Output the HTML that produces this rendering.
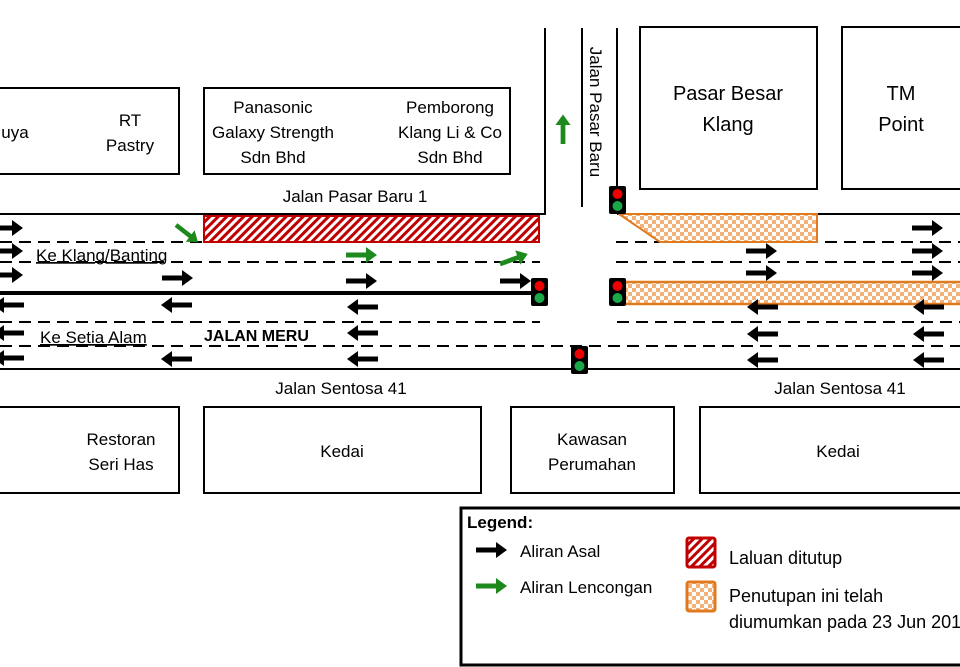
<!DOCTYPE html>
<html><head><meta charset="utf-8"><style>
html,body{margin:0;padding:0;background:#fff;}
svg{display:block;font-family:"Liberation Sans",sans-serif;}
</style></head><body>
<svg width="960" height="667" viewBox="0 0 960 667" xmlns="http://www.w3.org/2000/svg">
<defs>
<pattern id="hatch" width="6" height="6" patternUnits="userSpaceOnUse" patternTransform="rotate(45)">
<rect width="6" height="6" fill="#fff"/><rect width="3" height="6" fill="#c00000"/></pattern>
<pattern id="check" width="8" height="8" patternUnits="userSpaceOnUse">
<rect width="8" height="8" fill="#fff"/><rect width="4" height="4" fill="#f2b27a"/><rect x="4" y="4" width="4" height="4" fill="#f2b27a"/></pattern>
<path id="ar" d="M0 -2.5 H20 V-8 L31 0 L20 8 V2.5 H0 Z"/>
</defs>
<g stroke="#000" stroke-width="2" fill="none">
<rect x="-5" y="88" width="184" height="86"/>
<rect x="204" y="88" width="306" height="86"/>
<rect x="640" y="27" width="177" height="162"/>
<rect x="842" y="27" width="130" height="162"/>
<rect x="-5" y="407" width="184" height="86"/>
<rect x="204" y="407" width="277" height="86"/>
<rect x="511" y="407" width="163" height="86"/>
<rect x="700" y="407" width="270" height="86"/>
<rect x="461" y="508" width="510" height="157" stroke-width="3"/>
<path d="M545 28 V214 H0"/>
<path d="M582 28 V207"/>
<path d="M617 28 V190"/>
<path d="M617 214 H960"/>
<path d="M0 293 H538" stroke-width="4"/>
<path d="M0 369 H960"/>
<g stroke-dasharray="12,7">
<path d="M0 242 H540"/><path d="M0 262 H540"/><path d="M0 322 H540"/>
<path d="M616 242 H960"/><path d="M616 262 H960"/><path d="M617 322 H960"/>
<path d="M0 346 H960"/>
</g>
</g>
<rect x="204" y="216" width="335" height="26" fill="url(#hatch)" stroke="#c00000" stroke-width="2"/>
<path d="M619 214 H817 V242 H660 Z" fill="url(#check)" stroke="#e07a1f" stroke-width="2"/>
<rect x="625" y="282" width="345" height="22" fill="url(#check)" stroke="#e07a1f" stroke-width="2.5"/>
<g fill="#000">
<use href="#ar" x="-8" y="228"/><use href="#ar" x="-8" y="251"/><use href="#ar" x="-8" y="275"/>
<use href="#ar" x="162" y="278"/><use href="#ar" x="346" y="281"/><use href="#ar" x="500" y="281"/>
<use href="#ar" x="912" y="228"/><use href="#ar" x="746" y="251"/><use href="#ar" x="912" y="251"/>
<use href="#ar" x="746" y="273"/><use href="#ar" x="912" y="273"/>
<use href="#ar" transform="translate(24,305) scale(-1,1)"/><use href="#ar" transform="translate(192,305) scale(-1,1)"/><use href="#ar" transform="translate(378,307) scale(-1,1)"/>
<use href="#ar" transform="translate(24,333) scale(-1,1)"/><use href="#ar" transform="translate(378,333) scale(-1,1)"/>
<use href="#ar" transform="translate(24,358) scale(-1,1)"/><use href="#ar" transform="translate(192,359) scale(-1,1)"/><use href="#ar" transform="translate(378,359) scale(-1,1)"/>
<use href="#ar" transform="translate(778,307) scale(-1,1)"/><use href="#ar" transform="translate(944,307) scale(-1,1)"/>
<use href="#ar" transform="translate(778,334) scale(-1,1)"/><use href="#ar" transform="translate(944,334) scale(-1,1)"/>
<use href="#ar" transform="translate(778,360) scale(-1,1)"/><use href="#ar" transform="translate(944,360) scale(-1,1)"/>
<use href="#ar" x="476" y="550"/>
</g>
<g fill="#1e8a1e">
<use href="#ar" transform="translate(176,225) rotate(38) scale(0.9)"/>
<use href="#ar" x="346" y="255"/>
<use href="#ar" transform="translate(500,264) rotate(-20) scale(0.95)"/>
<use href="#ar" transform="translate(563,144) rotate(-90) scale(0.95)"/>
<use href="#ar" x="476" y="586"/>
</g>
<rect x="687" y="538" width="28" height="29" rx="2" fill="url(#hatch)" stroke="#c00000" stroke-width="3"/>
<rect x="687" y="582" width="28" height="29" rx="2" fill="url(#check)" stroke="#e07a1f" stroke-width="3"/>
<g>
<rect x="609" y="186" width="17" height="28" rx="2" fill="#000"/><circle cx="617.5" cy="194" r="5" fill="#e00"/><circle cx="617.5" cy="206" r="5" fill="#1aa84a"/>
<rect x="531" y="278" width="17" height="28" rx="2" fill="#000"/><circle cx="539.5" cy="286" r="5" fill="#e00"/><circle cx="539.5" cy="298" r="5" fill="#1aa84a"/>
<rect x="609" y="278" width="17" height="28" rx="2" fill="#000"/><circle cx="617.5" cy="286" r="5" fill="#e00"/><circle cx="617.5" cy="298" r="5" fill="#1aa84a"/>
<rect x="571" y="346" width="17" height="28" rx="2" fill="#000"/><circle cx="579.5" cy="354" r="5" fill="#e00"/><circle cx="579.5" cy="366" r="5" fill="#1aa84a"/>
</g>
<g font-size="17" fill="#000" text-anchor="middle">
<text x="15" y="138">uya</text>
<text x="130" y="126">RT</text><text x="130" y="151">Pastry</text>
<text x="273" y="113">Panasonic</text><text x="273" y="138">Galaxy Strength</text><text x="273" y="163">Sdn Bhd</text>
<text x="450" y="113">Pemborong</text><text x="450" y="138">Klang Li &amp; Co</text><text x="450" y="163">Sdn Bhd</text>
<text x="728" y="100" font-size="20">Pasar Besar</text><text x="728" y="131" font-size="20">Klang</text>
<text x="901" y="100" font-size="20">TM</text><text x="901" y="131" font-size="20">Point</text>
<text x="355" y="202">Jalan Pasar Baru 1</text>
<text x="341" y="394">Jalan Sentosa 41</text>
<text x="840" y="394">Jalan Sentosa 41</text>
<text x="121" y="445">Restoran</text><text x="121" y="470">Seri Has</text>
<text x="342" y="457">Kedai</text>
<text x="592" y="445">Kawasan</text><text x="592" y="470">Perumahan</text>
<text x="838" y="457">Kedai</text>
<text transform="translate(590,112) rotate(90)">Jalan Pasar Baru</text>
</g>
<g font-size="17" fill="#000">
<text x="36" y="261" text-decoration="underline">Ke Klang/Banting</text>
<text x="40" y="343" text-decoration="underline">Ke Setia Alam</text>
<text x="204" y="341" font-weight="bold" font-size="16">JALAN MERU</text>
<text x="467" y="528" font-weight="bold">Legend:</text>
<text x="520" y="557">Aliran Asal</text>
<text x="520" y="593">Aliran Lencongan</text>
<text x="729" y="564" font-size="18">Laluan ditutup</text>
<text x="729" y="602" font-size="18">Penutupan ini telah</text>
<text x="729" y="628" font-size="18">diumumkan pada 23 Jun 2013</text>
</g>
</svg>
</body></html>
